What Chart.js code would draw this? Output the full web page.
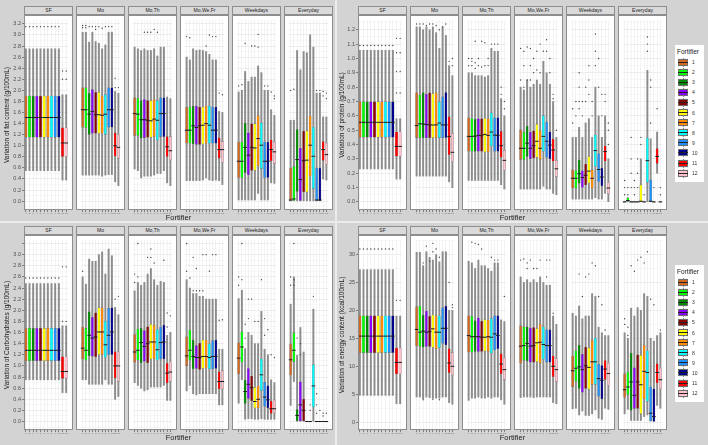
<!DOCTYPE html>
<html>
<head>
<meta charset="utf-8">
<script src="https://cdn.jsdelivr.net/npm/chart.js@4.4.1/dist/chart.umd.min.js"></script>
<style>
  body { margin: 0; width: 708px; height: 445px; background: #ececec; position: relative; overflow: hidden;
         font-family: "Liberation Sans", Arial, sans-serif; }
  .panel { position: absolute; background: #d3d3d3; }
  .strip { position: absolute; height: 9px; background: #dadada; border: 1px solid #8e8e8e; box-sizing: border-box;
           font-size: 5px; line-height: 7px; text-align: center; color: #1a1a1a; }
  .frame { position: absolute; border: 1px solid #8e8e8e; box-sizing: border-box; pointer-events: none; }
  .xtitle { position: absolute; font-size: 7.5px; color: #1a1a1a; text-align: center; }
  .legend { position: absolute; background: #fff; width: 29px; height: 137px; }
  .ttl { position: absolute; font-size: 6.5px; color: #1a1a1a; }
  .key { position: absolute; width: 10px; height: 9px; background: #f4f4f4; }
  .wh { position: absolute; width: 1px; height: 9px; background: #8a8a8a; }
  .bx { position: absolute; width: 10px; height: 7px; border: 1px solid #707070; box-sizing: border-box; }
  .md { position: absolute; width: 10px; height: 1px; background: #222; }
  .kl { position: absolute; font-size: 5px; color: #333; }
  canvas { position: absolute; }
</style>
</head>
<body>
<script>
const facets = ['SF', 'Mo', 'Mo,Th', 'Mo,We,Fr', 'Weekdays', 'Everyday'];
const fortifiers = ['1', '2', '3', '4', '5', '6', '7', '8', '9', '10', '11', '12'];
const colors = ['#d2691e', '#00ff00', '#008b00', '#8a00ff', '#8b0000', '#ffff00',
                '#ff8c00', '#00ffff', '#1e90ff', '#00008b', '#ff0000', '#ffc0cb'];

// fat content (g/100mL)
const fatLo = [
  [0.55, 0.55, 0.55, 0.55, 0.55, 0.55, 0.55, 0.55, 0.55, 0.55, 0.38, 0.38],
  [0.47, 0.47, 0.47, 0.47, 0.47, 0.47, 0.45, 0.47, 0.48, 0.48, 0.35, 0.28],
  [0.58, 0.55, 0.42, 0.45, 0.45, 0.45, 0.47, 0.50, 0.50, 0.55, 0.33, 0.28],
  [0.37, 0.37, 0.37, 0.37, 0.37, 0.38, 0.42, 0.38, 0.37, 0.38, 0.37, 0.30],
  [0.02, 0.02, 0.02, 0.02, 0.02, 0.02, 0.14, 0.02, 0.02, 0.02, 0.33, 0.32],
  [0, 0, 0, 0, 0, 0, 0, 0, 0, 0, 0.40, 0.38]
];
const fatQ1 = [
  [1.15, 1.15, 1.15, 1.15, 1.15, 1.15, 1.15, 1.15, 1.15, 1.15, 0.80, 0.80],
  [1.33, 1.32, 1.20, 1.22, 1.22, 1.22, 1.22, 1.20, 1.33, 1.33, 0.81, 0.77],
  [1.18, 1.18, 1.13, 1.14, 1.15, 1.15, 1.16, 1.10, 1.16, 1.16, 0.80, 0.74],
  [1.04, 1.04, 1.03, 1.02, 1.02, 1.03, 1.04, 1.04, 1.04, 1.04, 0.77, 0.70],
  [0.42, 0.42, 0.51, 0.47, 0.55, 0.55, 0.63, 0.58, 0.42, 0.42, 0.72, 0.67],
  [0, 0, 0.17, 0, 0.16, 0.16, 0.45, 0.22, 0, 0, 0.73, 0.66]
];
const fatMed = [
  [1.51, 1.51, 1.51, 1.51, 1.51, 1.51, 1.51, 1.51, 1.51, 1.51, 1.05, 1.05],
  [1.65, 1.65, 1.57, 1.62, 1.56, 1.56, 1.55, 1.57, 1.65, 1.65, 1.00, 0.97],
  [1.58, 1.57, 1.47, 1.47, 1.46, 1.45, 1.48, 1.46, 1.58, 1.58, 0.98, 0.91],
  [1.28, 1.28, 1.36, 1.33, 1.36, 1.37, 1.40, 1.37, 1.28, 1.28, 0.93, 0.93],
  [0.72, 0.72, 0.97, 0.83, 0.97, 0.96, 1.13, 1.01, 0.72, 0.72, 0.93, 0.89],
  [0.02, 0.04, 0.75, 0.39, 0.73, 0.74, 1.01, 0.81, 0.02, 0.02, 0.93, 0.84]
];
const fatQ3 = [
  [1.90, 1.90, 1.90, 1.90, 1.90, 1.90, 1.90, 1.90, 1.90, 1.90, 1.33, 1.33],
  [2.05, 2.05, 1.95, 2.02, 1.97, 1.97, 1.90, 1.93, 2.05, 2.05, 1.24, 1.20],
  [1.87, 1.86, 1.82, 1.84, 1.82, 1.82, 1.84, 1.82, 1.87, 1.87, 1.17, 1.17],
  [1.70, 1.70, 1.72, 1.72, 1.70, 1.70, 1.72, 1.72, 1.70, 1.70, 1.15, 1.08],
  [1.07, 1.07, 1.41, 1.24, 1.40, 1.40, 1.55, 1.42, 1.07, 1.07, 1.11, 1.07],
  [0.60, 0.63, 1.30, 0.96, 1.27, 1.27, 1.54, 1.34, 0.60, 0.60, 1.08, 1.05]
];
const fatHi = [
  [2.75, 2.75, 2.75, 2.75, 2.75, 2.75, 2.75, 2.75, 2.75, 2.75, 1.92, 1.92],
  [3.05, 3.05, 2.87, 3.05, 2.88, 2.85, 2.75, 2.82, 3.05, 3.05, 1.98, 1.95],
  [2.78, 2.75, 2.72, 2.75, 2.72, 2.72, 2.75, 2.62, 2.78, 2.78, 1.88, 1.85],
  [2.60, 2.55, 2.75, 2.72, 2.73, 2.72, 2.70, 2.65, 2.55, 2.55, 1.62, 1.60],
  [1.97, 2.00, 2.34, 2.16, 2.24, 2.24, 2.44, 2.32, 2.00, 2.00, 1.65, 1.55],
  [1.46, 1.46, 2.72, 2.37, 2.70, 2.68, 3.00, 2.78, 1.95, 1.95, 1.52, 1.52]
];
// [facet, fortifier, value]
const fatOut = [
  [0, 1, 3.15], [0, 2, 3.15], [0, 3, 3.15], [0, 4, 3.15], [0, 5, 3.15], [0, 6, 3.15], [0, 7, 3.15],
  [0, 8, 3.15], [0, 9, 3.15], [0, 10, 3.15], [0, 11, 2.2], [0, 11, 2.35], [0, 12, 2.2], [0, 12, 2.35],
  [1, 1, 3.17], [1, 1, 3.13], [1, 2, 3.17], [1, 2, 3.13], [1, 3, 3.15], [1, 4, 3.15], [1, 5, 3.15],
  [1, 5, 3.1], [1, 6, 3.15], [1, 7, 3.12], [1, 8, 3.15], [1, 9, 3.15], [1, 10, 3.15], [1, 11, 2.22],
  [1, 11, 2.05], [1, 12, 2.05],
  [2, 4, 3.05], [2, 5, 3.05], [2, 6, 3.05], [2, 7, 3.1], [2, 8, 3.05],
  [3, 1, 2.97], [3, 2, 2.95], [3, 7, 2.8], [3, 8, 3.0], [3, 9, 2.97], [3, 10, 2.97], [3, 11, 1.95], [3, 12, 1.92],
  [4, 1, 2.08], [4, 2, 2.1], [4, 3, 2.85], [4, 5, 2.8], [4, 6, 2.8], [4, 7, 3.01], [4, 7, 2.78],
  [4, 9, 2.08], [4, 10, 2.08], [4, 11, 1.97], [4, 12, 1.85], [4, 12, 1.9],
  [5, 1, 2.0], [5, 2, 2.02], [5, 9, 2.0], [5, 10, 2.0], [5, 11, 1.98], [5, 11, 1.9], [5, 12, 1.95], [5, 12, 1.85]
];

// protein (g/100mL)
const protLo = [
  [0.23, 0.23, 0.23, 0.23, 0.23, 0.23, 0.23, 0.23, 0.23, 0.23, 0.16, 0.16],
  [0.18, 0.18, 0.18, 0.18, 0.18, 0.18, 0.18, 0.18, 0.18, 0.18, 0.14, 0.10],
  [0.15, 0.15, 0.15, 0.15, 0.15, 0.15, 0.15, 0.15, 0.15, 0.15, 0.12, 0.09],
  [0.09, 0.09, 0.09, 0.09, 0.09, 0.09, 0.09, 0.11, 0.09, 0.09, 0.06, 0.05],
  [0.02, 0.02, 0.02, 0.02, 0.02, 0.02, 0.02, 0.03, 0.02, 0.02, 0.06, 0.00],
  [0, 0, 0, 0, 0, 0, 0, 0, 0, 0, 0.20, 0]
];
const protQ1 = [
  [0.45, 0.45, 0.45, 0.45, 0.45, 0.45, 0.45, 0.45, 0.45, 0.45, 0.317, 0.317],
  [0.446, 0.446, 0.446, 0.446, 0.446, 0.446, 0.446, 0.446, 0.446, 0.446, 0.328, 0.28],
  [0.351, 0.351, 0.351, 0.351, 0.351, 0.347, 0.347, 0.389, 0.351, 0.351, 0.31, 0.22],
  [0.294, 0.294, 0.315, 0.30, 0.305, 0.31, 0.294, 0.351, 0.31, 0.30, 0.283, 0.174],
  [0.097, 0.097, 0.129, 0.10, 0.118, 0.131, 0.097, 0.245, 0.14, 0.111, 0.283, 0.057],
  [0, 0, 0, 0, 0, 0, 0, 0.136, 0, 0, 0.267, 0]
];
const protMed = [
  [0.555, 0.555, 0.555, 0.555, 0.555, 0.555, 0.555, 0.555, 0.555, 0.555, 0.387, 0.387],
  [0.532, 0.545, 0.543, 0.54, 0.537, 0.536, 0.537, 0.55, 0.537, 0.537, 0.457, 0.346],
  [0.457, 0.457, 0.459, 0.464, 0.462, 0.471, 0.464, 0.487, 0.466, 0.464, 0.392, 0.29],
  [0.374, 0.374, 0.41, 0.374, 0.392, 0.423, 0.374, 0.457, 0.423, 0.396, 0.362, 0.231],
  [0.165, 0.165, 0.197, 0.17, 0.186, 0.215, 0.165, 0.358, 0.226, 0.174, 0.351, 0.097],
  [0, 0.01, 0, 0, 0, 0.005, 0, 0.288, 0.005, 0, 0.317, 0]
];
const protQ3 = [
  [0.70, 0.70, 0.70, 0.70, 0.70, 0.70, 0.70, 0.70, 0.70, 0.70, 0.49, 0.49],
  [0.763, 0.747, 0.765, 0.752, 0.763, 0.757, 0.763, 0.70, 0.735, 0.765, 0.595, 0.48],
  [0.589, 0.584, 0.580, 0.582, 0.582, 0.584, 0.582, 0.623, 0.589, 0.589, 0.494, 0.362],
  [0.505, 0.487, 0.53, 0.487, 0.497, 0.543, 0.497, 0.604, 0.559, 0.49, 0.44, 0.292],
  [0.226, 0.22, 0.294, 0.22, 0.265, 0.317, 0.226, 0.469, 0.337, 0.238, 0.392, 0.136],
  [0.005, 0.03, 0.005, 0.005, 0.005, 0.12, 0.005, 0.446, 0.154, 0.005, 0.374, 0.005]
];
const protHi = [
  [1.057, 1.057, 1.057, 1.057, 1.057, 1.057, 1.057, 1.057, 1.057, 1.057, 0.58, 0.58],
  [1.22, 1.22, 1.20, 1.22, 1.20, 1.22, 1.18, 1.07, 1.22, 1.16, 0.95, 0.88],
  [0.90, 0.90, 0.88, 0.88, 0.88, 0.87, 0.88, 1.07, 1.05, 1.05, 0.72, 0.60],
  [0.80, 0.78, 0.85, 0.80, 0.82, 0.85, 0.82, 0.98, 0.90, 0.82, 0.70, 0.45],
  [0.45, 0.45, 0.52, 0.45, 0.55, 0.58, 0.45, 0.80, 0.60, 0.45, 0.60, 0.30],
  [0.005, 0.03, 0.005, 0.005, 0.005, 0.30, 0.005, 0.917, 0.44, 0.005, 0.487, 0.005]
];
const protOut = [
  [0, 1, 1.09], [0, 2, 1.09], [0, 3, 1.09], [0, 4, 1.09], [0, 5, 1.09], [0, 6, 1.09], [0, 7, 1.09],
  [0, 8, 1.09], [0, 9, 1.09], [0, 10, 1.09], [0, 11, 0.76], [0, 11, 0.91], [0, 11, 1.04], [0, 11, 1.14],
  [0, 12, 0.76], [0, 12, 0.91], [0, 12, 1.04], [0, 12, 1.14],
  [1, 1, 1.24], [1, 2, 1.24], [1, 3, 1.24], [1, 4, 1.23], [1, 5, 1.24], [1, 6, 1.24], [1, 7, 1.23],
  [1, 8, 1.2], [1, 9, 1.22], [1, 10, 1.24], [1, 11, 0.98], [1, 12, 0.95], [1, 12, 1.0],
  [2, 1, 0.95], [2, 1, 1.0], [2, 2, 0.95], [2, 2, 0.98], [2, 2, 1.0], [2, 3, 0.93], [2, 3, 0.97],
  [2, 3, 1.12], [2, 4, 0.95], [2, 4, 1.0], [2, 5, 0.94], [2, 5, 1.12], [2, 6, 0.95], [2, 6, 1.11],
  [2, 7, 0.95], [2, 7, 1.0], [2, 8, 1.1], [2, 9, 1.1], [2, 10, 1.1], [2, 11, 0.75], [2, 11, 0.8],
  [2, 12, 0.65], [2, 12, 0.7],
  [3, 1, 0.85], [3, 1, 1.07], [3, 2, 0.8], [3, 2, 0.95], [3, 2, 1.05], [3, 3, 0.85], [3, 3, 1.08],
  [3, 4, 0.85], [3, 4, 0.95], [3, 4, 1.07], [3, 5, 0.9], [3, 5, 1.0], [3, 6, 0.92], [3, 6, 1.05],
  [3, 7, 0.9], [3, 7, 1.1], [3, 8, 1.05], [3, 9, 1.05], [3, 9, 1.13], [3, 10, 0.9], [3, 10, 1.0],
  [3, 11, 0.72], [3, 11, 0.75], [3, 12, 0.5],
  [4, 1, 0.55], [4, 1, 0.65], [4, 2, 0.6], [4, 2, 0.7], [4, 3, 0.65], [4, 3, 0.7], [4, 3, 0.8],
  [4, 3, 0.9], [4, 4, 0.6], [4, 4, 0.7], [4, 5, 0.7], [4, 5, 0.8], [4, 6, 0.75], [4, 6, 0.85],
  [4, 6, 0.95], [4, 7, 0.6], [4, 7, 0.7], [4, 8, 0.95], [4, 8, 1.05], [4, 8, 1.17], [4, 9, 0.8],
  [4, 9, 1.0], [4, 10, 0.6], [4, 10, 0.75], [4, 11, 0.7], [4, 11, 0.75], [4, 12, 0.4], [4, 12, 0.5],
  [4, 12, 0.55],
  [5, 1, 0.05], [5, 1, 0.1], [5, 1, 0.15], [5, 2, 0.05], [5, 2, 0.1], [5, 3, 0.1], [5, 3, 0.2],
  [5, 3, 0.3], [5, 3, 0.45], [5, 4, 0.05], [5, 4, 0.1], [5, 4, 0.15], [5, 5, 0.1], [5, 5, 0.2],
  [5, 5, 0.3], [5, 6, 0.4], [5, 6, 0.45], [5, 7, 0.05], [5, 8, 1.05], [5, 8, 1.1], [5, 8, 1.15],
  [5, 9, 0.55], [5, 9, 0.8], [5, 9, 0.85], [5, 10, 0.1], [5, 11, 0.65], [5, 12, 0.05], [5, 12, 0.1]
];

// carbohydrates (g/100mL)
const carbLo = [
  [0.75, 0.75, 0.75, 0.75, 0.75, 0.75, 0.75, 0.75, 0.75, 0.75, 0.52, 0.52],
  [0.75, 0.75, 0.67, 0.67, 0.67, 0.67, 0.67, 0.75, 0.67, 0.67, 0.40, 0.45],
  [0.70, 0.65, 0.60, 0.55, 0.57, 0.62, 0.62, 0.62, 0.62, 0.65, 0.38, 0.38],
  [0.55, 0.65, 0.50, 0.48, 0.50, 0.50, 0.50, 0.50, 0.50, 0.50, 0.30, 0.30],
  [0.33, 0.75, 0.04, 0.05, 0.05, 0.04, 0.04, 0.05, 0.04, 0.04, 0.04, 0.04],
  [0.29, 0.72, 0, 0, 0, 0, 0, 0, 0, 0, 0, 0]
];
const carbQ1 = [
  [1.09, 1.09, 1.09, 1.09, 1.09, 1.09, 1.09, 1.09, 1.09, 1.09, 0.77, 0.77],
  [1.12, 1.10, 1.18, 1.17, 1.16, 1.20, 1.20, 1.15, 1.20, 1.20, 0.78, 0.72],
  [1.06, 1.10, 1.05, 1.08, 1.05, 1.12, 1.12, 1.10, 1.12, 1.12, 0.69, 0.72],
  [1.00, 1.10, 0.94, 0.95, 0.93, 0.95, 0.96, 0.94, 0.94, 0.95, 0.58, 0.58],
  [0.85, 1.06, 0.32, 0.41, 0.37, 0.24, 0.24, 0.55, 0.27, 0.24, 0.14, 0.15],
  [0.83, 1.07, 0, 0, 0, 0, 0, 0.26, 0, 0, 0, 0]
];
const carbMed = [
  [1.28, 1.28, 1.28, 1.28, 1.28, 1.28, 1.28, 1.28, 1.28, 1.28, 0.90, 0.90],
  [1.32, 1.28, 1.55, 1.50, 1.52, 1.61, 1.61, 1.38, 1.55, 1.61, 1.00, 1.00],
  [1.25, 1.28, 1.42, 1.35, 1.40, 1.43, 1.43, 1.29, 1.42, 1.43, 0.87, 0.89],
  [1.18, 1.28, 1.17, 1.15, 1.15, 1.17, 1.17, 1.15, 1.17, 1.17, 0.72, 0.72],
  [1.14, 1.34, 0.54, 0.67, 0.61, 0.36, 0.40, 0.84, 0.44, 0.39, 0.23, 0.23],
  [1.11, 1.28, 0.11, 0.30, 0.20, 0, 0, 0.64, 0, 0, 0, 0]
];
const carbQ3 = [
  [1.68, 1.68, 1.68, 1.68, 1.68, 1.68, 1.68, 1.68, 1.68, 1.68, 1.17, 1.17],
  [1.70, 1.68, 1.98, 1.88, 1.96, 2.05, 2.05, 1.81, 2.04, 2.05, 1.26, 1.26],
  [1.57, 1.67, 1.68, 1.64, 1.71, 1.75, 1.74, 1.66, 1.70, 1.74, 1.05, 1.08],
  [1.53, 1.65, 1.47, 1.37, 1.41, 1.47, 1.47, 1.40, 1.46, 1.47, 0.90, 0.92],
  [1.42, 1.62, 0.75, 0.96, 0.82, 0.62, 0.64, 1.13, 0.71, 0.65, 0.37, 0.39],
  [1.40, 1.60, 0.22, 0.72, 0.41, 0.005, 0.005, 1.03, 0.005, 0.005, 0.005, 0.005]
];
const carbHi = [
  [2.48, 2.48, 2.48, 2.48, 2.48, 2.48, 2.48, 2.48, 2.48, 2.48, 1.72, 1.72],
  [2.60, 2.47, 2.92, 2.88, 2.88, 3.00, 3.05, 2.65, 3.10, 2.98, 2.05, 1.92],
  [2.35, 2.50, 2.45, 2.50, 2.65, 2.75, 2.55, 2.45, 2.52, 2.50, 1.55, 1.60],
  [2.55, 2.40, 2.30, 2.30, 2.25, 2.25, 2.20, 2.20, 2.20, 2.20, 1.30, 1.30],
  [2.21, 2.36, 1.31, 1.60, 1.55, 1.40, 1.40, 1.98, 1.30, 1.20, 0.75, 0.70],
  [2.11, 2.60, 1.19, 1.69, 1.25, 0.005, 0.005, 2.02, 0.005, 0.005, 0.005, 0.005]
];
const carbOut = [
  [0, 1, 2.58], [0, 2, 2.58], [0, 3, 2.58], [0, 4, 2.58], [0, 5, 2.58], [0, 6, 2.58], [0, 7, 2.58],
  [0, 8, 2.58], [0, 9, 2.58], [0, 10, 2.58], [0, 11, 1.8], [0, 11, 2.78], [0, 12, 1.8], [0, 12, 2.78],
  [1, 1, 2.7], [1, 11, 2.2], [1, 12, 2.25],
  [2, 1, 2.5], [2, 1, 2.65], [2, 2, 2.6], [2, 2, 3.2], [2, 5, 2.95], [2, 6, 2.95], [2, 6, 3.1],
  [2, 7, 2.85], [2, 10, 2.9], [2, 11, 1.7], [2, 11, 1.95], [2, 12, 1.9],
  [3, 1, 2.7], [3, 1, 3.2], [3, 2, 2.58], [3, 3, 2.35], [3, 3, 2.95], [3, 4, 2.35], [3, 4, 2.75],
  [3, 5, 2.35], [3, 6, 2.35], [3, 6, 3.0], [3, 7, 3.0], [3, 8, 2.7], [3, 9, 3.0], [3, 10, 3.0],
  [3, 11, 1.82], [3, 12, 1.83],
  [4, 1, 2.45], [4, 1, 2.6], [4, 2, 2.55], [4, 2, 3.2], [4, 3, 1.5], [4, 3, 1.75], [4, 4, 1.85],
  [4, 4, 2.2], [4, 5, 2.2], [4, 6, 1.8], [4, 7, 1.8], [4, 8, 2.55], [4, 9, 1.55], [4, 9, 1.85],
  [4, 10, 1.65], [4, 11, 1.2], [4, 12, 1.15],
  [5, 1, 2.45], [5, 1, 2.6], [5, 2, 2.45], [5, 2, 2.55], [5, 2, 3.2], [5, 3, 1.5], [5, 4, 1.2],
  [5, 4, 1.4], [5, 7, 0.2], [5, 7, 0.3], [5, 8, 2.25], [5, 9, 0.15], [5, 9, 0.3], [5, 9, 0.5],
  [5, 10, 0.2], [5, 11, 0.1], [5, 11, 0.15], [5, 12, 0.15]
];

// energy content (kcal/100mL)
const enerLo = [
  [4.8, 4.8, 4.8, 4.8, 4.8, 4.8, 4.8, 4.8, 4.8, 4.8, 3.3, 3.3],
  [4.5, 4.5, 4.2, 4.5, 4.4, 4.3, 4.3, 4.3, 4.5, 4.5, 3.5, 3.2],
  [3.9, 4.3, 4.3, 4.5, 4.3, 4.3, 4.5, 4.3, 4.5, 4.5, 4.0, 3.2],
  [4.4, 4.5, 4.5, 4.5, 4.4, 4.5, 4.5, 4.5, 4.5, 4.5, 3.5, 3.3],
  [2.4, 2.5, 1.3, 2.0, 1.2, 1.2, 1.5, 2.2, 0.7, 0.5, 2.5, 2.3],
  [1.5, 2.3, 0.3, 0.3, 0.3, 0.3, 1.0, 1.3, 0.2, 0.1, 3.0, 2.5]
];
const enerQ1 = [
  [12.4, 12.4, 12.4, 12.4, 12.4, 12.4, 12.4, 12.4, 12.4, 12.4, 8.6, 8.6],
  [13.6, 13.5, 13.4, 13.5, 13.5, 13.4, 13.1, 13.3, 14.1, 13.8, 8.8, 8.4],
  [12.5, 12.5, 12.6, 12.6, 12.6, 12.7, 12.6, 12.3, 12.9, 13.1, 8.6, 7.6],
  [10.5, 11.0, 10.9, 10.7, 10.7, 10.8, 10.5, 11.2, 10.7, 10.7, 8.1, 7.2],
  [6.3, 7.3, 6.0, 5.3, 6.0, 5.9, 6.7, 6.7, 4.6, 4.1, 7.6, 6.6],
  [4.4, 4.9, 2.1, 2.4, 2.4, 1.5, 4.1, 3.7, 0.2, 0.1, 7.0, 5.9]
];
const enerMed = [
  [15.4, 15.4, 15.4, 15.4, 15.4, 15.4, 15.4, 15.4, 15.4, 15.4, 10.7, 10.7],
  [16.6, 16.1, 16.3, 16.1, 16.2, 16.7, 16.1, 16.1, 16.8, 16.8, 10.6, 10.0],
  [15.5, 15.3, 15.3, 15.3, 15.2, 15.2, 15.3, 15.2, 15.8, 15.5, 10.4, 9.4],
  [13.6, 13.7, 14.1, 13.6, 13.7, 14.2, 14.3, 13.9, 13.7, 13.7, 10.0, 9.4],
  [9.2, 9.65, 9.9, 9.4, 10.1, 9.8, 10.8, 10.8, 7.8, 7.5, 9.5, 8.7],
  [5.8, 6.3, 7.2, 4.8, 7.2, 6.7, 9.1, 8.9, 1.6, 1.0, 8.9, 7.6]
];
const enerQ3 = [
  [19.1, 19.1, 19.1, 19.1, 19.1, 19.1, 19.1, 19.1, 19.1, 19.1, 13.3, 13.3],
  [20.7, 20.8, 19.2, 19.9, 19.0, 19.2, 19.1, 19.1, 20.5, 20.8, 13.2, 12.5],
  [19.1, 19.0, 18.2, 18.7, 18.1, 18.4, 18.3, 18.6, 19.1, 19.1, 12.3, 11.5],
  [17.3, 17.1, 17.1, 16.9, 17.0, 16.8, 17.6, 17.1, 16.6, 16.6, 11.9, 11.4],
  [11.9, 12.8, 13.8, 12.2, 13.5, 13.3, 14.7, 15.1, 10.4, 10.2, 11.1, 10.6],
  [8.7, 9.0, 12.4, 9.8, 12.1, 12.0, 13.8, 12.8, 6.3, 6.0, 10.5, 9.7]
];
const enerHi = [
  [27.3, 27.3, 27.3, 27.3, 27.3, 27.3, 27.3, 27.3, 27.3, 27.3, 19.0, 19.0],
  [30.4, 30.4, 28.0, 30.5, 29.5, 29.0, 30.0, 28.7, 30.5, 30.5, 20.0, 20.0],
  [28.8, 28.5, 27.5, 29.0, 28.0, 28.0, 27.5, 27.0, 28.5, 28.5, 18.3, 18.0],
  [26.0, 25.0, 25.5, 25.0, 25.5, 25.0, 26.0, 25.0, 24.5, 24.5, 19.0, 17.5],
  [19.5, 19.0, 20.8, 18.5, 19.0, 19.0, 23.0, 22.5, 17.0, 16.0, 15.5, 15.5],
  [16.0, 15.0, 20.4, 19.0, 20.5, 20.0, 23.0, 22.5, 15.0, 14.5, 15.5, 16.0]
];
const enerOut = [
  [0, 1, 31], [0, 2, 31], [0, 3, 31], [0, 4, 31], [0, 5, 31], [0, 6, 31], [0, 7, 31], [0, 8, 31],
  [0, 9, 31], [0, 10, 31], [0, 11, 21.8], [0, 12, 21.8],
  [1, 3, 28.5], [1, 4, 31.5], [1, 5, 28.8], [1, 6, 32], [1, 6, 30.5], [1, 7, 31], [1, 8, 29.5],
  [1, 3, 4.0], [1, 6, 4.1], [1, 8, 4.0], [1, 11, 25], [1, 12, 21], [1, 12, 20.5],
  [2, 2, 32.2], [2, 3, 32], [2, 4, 31.8], [2, 5, 31], [2, 8, 29.5], [2, 9, 29], [2, 10, 29], [2, 12, 22.5],
  [3, 1, 29], [3, 2, 29.2], [3, 3, 27.5], [3, 3, 28.5], [3, 4, 29], [3, 5, 27.5], [3, 6, 27.5],
  [3, 7, 29], [3, 9, 26], [3, 9, 29], [3, 10, 29], [3, 11, 19.5],
  [4, 3, 26.5], [4, 4, 22.5], [4, 5, 26], [4, 6, 26.5], [4, 7, 28.5], [4, 8, 28], [4, 9, 22.5],
  [4, 10, 21], [4, 11, 16.5],
  [5, 1, 17.5], [5, 1, 18.5], [5, 2, 15.5], [5, 2, 17], [5, 3, 28], [5, 4, 27], [5, 5, 29],
  [5, 6, 29.5], [5, 7, 28.5], [5, 8, 30.5], [5, 9, 22], [5, 10, 21], [5, 12, 16.5]
];

// layout
const FW = 49, STEP = 52, PH = 195, XH = 7;
const panels = [
  { x0: 24, yW: 24, top: 15, min: -0.16, max: 3.27, minor: 0.1, maxLabel: 3.25, dec: 1, tpad: 3,
    title: 'Variation of fat content (g/100mL)',
    lo: fatLo, q1: fatQ1, med: fatMed, q3: fatQ3, hi: fatHi, out: fatOut },
  { x0: 358, yW: 21, top: 15, min: -0.056, max: 1.268, minor: 0.05, maxLabel: 1.25, dec: 1, tpad: 1,
    title: 'Variation of protein (g/100mL)',
    lo: protLo, q1: protQ1, med: protMed, q3: protQ3, hi: protHi, out: protOut },
  { x0: 24, yW: 24, top: 235, min: -0.152, max: 3.263, minor: 0.1, maxLabel: 3.05, dec: 1, tpad: 3,
    title: 'Variation of Carbohydrates (g/100mL)',
    lo: carbLo, q1: carbQ1, med: carbMed, q3: carbQ3, hi: carbHi, out: carbOut },
  { x0: 358, yW: 21, top: 235, min: -1.4, max: 32.6, minor: 2.5, maxLabel: 31, dec: 0, tpad: 1,
    title: 'Variation of energy content (kcal/100mL)',
    lo: enerLo, q1: enerQ1, med: enerMed, q3: enerQ3, hi: enerHi, out: enerOut }
];

function addDiv(cls, x, y, w, h, text, parent) {
  const d = document.createElement('div');
  d.className = cls;
  d.style.left = x + 'px';
  d.style.top = y + 'px';
  if (w != null) d.style.width = w + 'px';
  if (h != null) d.style.height = h + 'px';
  if (text) d.textContent = text;
  (parent || document.body).appendChild(d);
  return d;
}

// grey plot backgrounds
addDiv('panel', 0, 0, 335, 221);
addDiv('panel', 337, 0, 371, 221);
addDiv('panel', 0, 223, 335, 222);
addDiv('panel', 337, 223, 371, 222);

function isMajor(v, p) {
  return Math.round(v / p.minor) % 2 === 0;
}

function facetChart(p, fi) {
  const first = fi === 0;
  const yW = first ? p.yW : 0;
  const fx = p.x0 + fi * STEP;

  // white panel under the canvas
  const bg = addDiv('panel', fx, p.top, FW, PH);
  bg.style.background = '#fff';

  const c = document.createElement('canvas');
  c.width = yW + FW;
  c.height = PH + XH;
  c.style.left = (fx - yW) + 'px';
  c.style.top = p.top + 'px';
  document.body.appendChild(c);

  const outPts = p.out.filter(o => o[0] === fi).map(o => ({ x: fortifiers[o[1] - 1], y: o[2] }));

  new Chart(c, {
    type: 'bar',
    data: {
      labels: fortifiers,
      datasets: [
        {
          type: 'line', data: outPts, showLine: false, order: 0,
          pointRadius: 0.7, pointBorderWidth: 0, pointBackgroundColor: '#444'
        },
        {
          type: 'line', data: p.med[fi], showLine: false, order: 1,
          pointStyle: 'line', pointRadius: 1.8, pointBorderWidth: 1, pointBorderColor: '#1a1a1a'
        },
        {
          data: p.q1[fi].map((v, i) => [v, p.q3[fi][i]]), order: 2, grouped: false,
          backgroundColor: colors, borderColor: '#5a5a5a', borderWidth: 0.4, borderSkipped: false,
          barPercentage: 0.86, categoryPercentage: 1
        },
        {
          data: p.lo[fi].map((v, i) => [v, p.hi[fi][i]]), order: 3, grouped: false,
          backgroundColor: '#8c8c8c', barThickness: 1.3
        }
      ]
    },
    options: {
      responsive: false,
      animation: false,
      devicePixelRatio: 1,
      layout: { padding: 0 },
      plugins: { legend: { display: false }, tooltip: { enabled: false } },
      scales: {
        x: {
          offset: true,
          grid: { offset: false, color: '#ebebeb', lineWidth: 0.6, tickLength: 2, tickColor: '#444' },
          border: { display: false },
          ticks: { autoSkip: false, maxRotation: 0, padding: 0, font: { size: 2.5 }, color: '#666' },
          afterFit: s => { s.height = XH; s.paddingLeft = 0; s.paddingRight = 0; }
        },
        y: {
          min: p.min,
          max: p.max,
          grid: {
            color: ctx => isMajor(ctx.tick.value, p) ? '#e2e2e2' : '#f1f1f1',
            lineWidth: 0.6,
            drawTicks: first,
            tickLength: 2,
            tickColor: ctx => isMajor(ctx.tick.value, p) ? '#444' : 'rgba(0,0,0,0)'
          },
          border: { display: false },
          ticks: {
            display: first,
            stepSize: p.minor,
            maxTicksLimit: 200,
            includeBounds: false,
            autoSkip: false,
            padding: 1,
            font: { size: 5.5 },
            color: '#4d4d4d',
            callback: v => (isMajor(v, p) && v <= p.maxLabel) ? v.toFixed(p.dec) : ''
          },
          title: {
            display: first,
            text: p.title,
            font: { size: 6.5 },
            color: '#1a1a1a',
            padding: { top: p.tpad, bottom: 0 }
          },
          afterFit: s => { s.width = yW; s.paddingTop = 0; s.paddingBottom = 0; }
        }
      }
    }
  });

  addDiv('frame', fx, p.top, FW, PH);
  addDiv('strip', fx, p.top - 9, FW, null, facets[fi]);
}

panels.forEach(p => {
  facets.forEach((f, fi) => facetChart(p, fi));
  addDiv('xtitle', p.x0, p.top + PH + 3, 5 * STEP + FW, null, 'Fortifier');
});

// legends
[45, 265].forEach(top => {
  const lg = addDiv('legend', 675, top);
  addDiv('ttl', 2, 3, null, null, 'Fortifier', lg);
  fortifiers.forEach((f, i) => {
    const y = 12.5 + i * 10.1;
    const k = addDiv('key', 3, y, null, null, null, lg);
    addDiv('wh', 4.5, 0, null, null, null, k);
    const b = addDiv('bx', 0, 1, null, null, null, k);
    b.style.backgroundColor = colors[i];
    addDiv('md', 0, 4, null, null, null, k);
    addDiv('kl', 17, y + 1.5, null, null, f, lg);
  });
});
</script>
</body>
</html>
